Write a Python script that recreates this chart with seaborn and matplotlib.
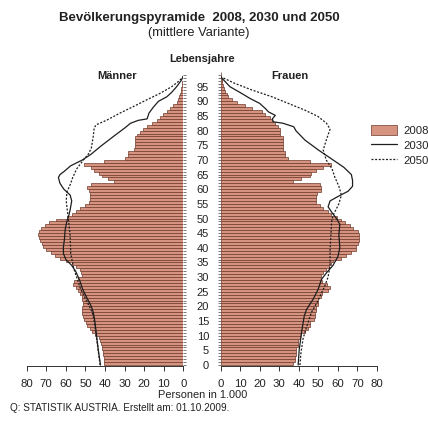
import numpy as np
import pandas as pd
import matplotlib
matplotlib.use("Agg")
import matplotlib.pyplot as plt
import seaborn as sns
from matplotlib.patches import Patch
from matplotlib.lines import Line2D
from matplotlib.ticker import FixedLocator

sns.set_style("ticks")
plt.rcParams["font.family"] = ["Liberation Sans", "DejaVu Sans"]

# ---------------- data (Personen in 1.000) ----------------
ages = list(range(100))

maenner_2008 = [
    40.5, 40.5, 40.5, 41.0, 41.0, 41.5, 41.5, 42.0, 42.5, 43.0,
    45.0, 46.5, 47.5, 49.0, 49.5, 50.5, 51.0, 52.0, 52.0, 51.5,
    51.0, 51.0, 51.5, 52.0, 53.0, 54.0, 55.0, 56.5, 56.0, 54.0,
    52.0, 52.5, 53.0, 55.0, 57.0, 60.0, 63.0, 65.5, 67.5, 70.0,
    71.5, 72.0, 73.0, 73.5, 74.0, 73.5, 72.5, 70.5, 68.5, 65.0,
    59.5, 57.0, 55.0, 53.0, 50.0, 48.0, 47.5, 47.5, 47.5, 48.0,
    49.0, 47.0, 35.5, 38.5, 41.5, 43.0, 45.5, 47.0, 50.5, 40.5,
    29.7, 28.0, 28.0, 25.0, 24.6, 24.5, 24.5, 24.5, 23.8, 22.0,
    20.4, 18.7, 16.1, 13.6, 11.9, 10.2, 8.5, 6.8, 5.1, 3.4,
    2.6, 2.4, 1.7, 1.3, 1.0, 0.7, 0.5, 0.3, 0.2, 0.1,
]

frauen_2008 = [
    37.2, 38.0, 38.0, 38.5, 38.5, 38.5, 39.4, 39.4, 39.5, 40.6,
    41.4, 43.0, 44.8, 45.7, 46.0, 48.0, 48.2, 48.2, 49.0, 49.0,
    49.9, 49.9, 50.0, 51.6, 52.0, 55.0, 55.9, 54.2, 52.0, 51.6,
    51.6, 52.5, 54.0, 55.5, 56.5, 57.6, 61.8, 64.4, 66.9, 69.5,
    69.5, 70.5, 70.7, 71.0, 70.7, 70.3, 67.8, 66.0, 63.5, 61.8,
    59.3, 56.7, 55.0, 52.5, 50.8, 49.0, 49.0, 49.0, 49.5, 51.6,
    51.6, 50.8, 37.1, 41.4, 45.7, 46.5, 49.0, 52.5, 56.7, 45.7,
    34.6, 32.9, 32.9, 32.0, 32.0, 32.0, 32.0, 32.0, 30.4, 30.4,
    30.4, 29.2, 27.8, 26.4, 25.3, 22.7, 21.0, 15.9, 12.5, 8.3,
    5.7, 4.0, 3.1, 2.3, 1.7, 1.4, 0.9, 0.6, 0.3, 0.15,
]

maenner_2030_alter = [0, 5, 10, 15, 18, 20, 23, 26, 29, 32, 34, 36, 38, 40, 43, 46, 49, 51, 53,
                      56, 58, 60, 62, 64, 65, 66, 68, 70, 72, 74.5, 78, 81, 82.5, 83.5, 84,
                      86, 88, 90, 91.5, 93, 95, 97, 98.5]
maenner_2030 = [42.3, 43.4, 44.3, 45.2, 46.0, 47.0, 49.3, 51.5, 53.0, 55.0, 57.0, 60.0, 61.2,
                61.3, 60.7, 60.4, 59.5, 58.5, 57.8, 57.0, 57.8, 61.0, 63.0, 63.8, 63.0, 61.0,
                57.5, 51.5, 47.0, 42.5, 35.7, 29.7, 27.0, 23.0, 18.5, 17.5, 15.3, 12.7, 8.5,
                6.0, 3.4, 1.2, 0.0]

maenner_2050_alter = [0, 5, 10, 15, 18, 22, 26, 29, 33, 38, 44, 50, 53, 56, 59, 62, 64, 67, 70,
                      72, 74, 76, 78, 81, 82, 83.6, 86, 88.2, 90.5, 92.7, 95, 97, 98.5]
maenner_2050 = [42.5, 43.5, 44.5, 45.5, 46.5, 49.5, 52.5, 54.0, 56.0, 57.5, 57.8, 58.7, 59.3,
                59.8, 59.5, 57.5, 56.5, 54.4, 51.0, 48.5, 47.0, 46.5, 46.0, 45.5, 44.5, 39.0,
                32.3, 25.5, 18.7, 11.9, 5.9, 2.0, 0.0]

frauen_2030_alter = [0, 5, 11, 16.7, 19, 22.4, 25.8, 29.2, 31.5, 34, 37, 40, 44.5, 48, 50, 52,
                     54, 56, 57.5, 59.3, 61, 63, 65, 67.5, 70, 73.4, 76.8, 80, 81.3, 82.5, 83,
                     84, 85.2, 86.4, 87.5, 89.3, 91, 92.7, 95, 98.4]
frauen_2030 = [39.7, 40.2, 41.4, 42.8, 44.0, 47.3, 49.9, 51.6, 54.2, 57.5, 60.0, 61.0, 60.5,
               61.0, 59.3, 57.0, 55.0, 56.0, 60.0, 65.2, 67.5, 67.5, 66.9, 63.0, 57.5, 50.0,
               43.1, 38.5, 37.5, 32.0, 27.0, 26.5, 28.0, 24.5, 23.0, 20.0, 15.0, 10.8, 4.8, 0.0]

frauen_2050_alter = [0, 4, 9, 13, 18, 22, 27, 30, 34, 39, 44, 49, 51, 53, 55, 58, 61, 64, 67,
                     70, 73.4, 77, 80.5, 82.5, 84.8, 87, 89.3, 91.6, 93.9, 96.1, 98.4]
frauen_2050 = [40.6, 41.1, 42.2, 44.0, 46.5, 49.9, 53.3, 55.0, 56.0, 56.0, 56.4, 56.8, 57.5,
               59.0, 60.5, 61.8, 60.5, 58.5, 57.0, 54.0, 52.5, 54.2, 56.0, 54.2, 49.9, 43.1,
               34.6, 26.1, 15.9, 7.4, 0.0]

x_ticks = [0, 10, 20, 30, 40, 50, 60, 70, 80]
age_ticks = list(range(0, 100, 5))
legend_labels = ["2008", "2030", "2050"]

# ---------------- styling ----------------
bar_color = "#d6937f"
edge_color = "#6e3a2e"
line_color = "#1e1e1e"
dot_style = (0, (1.6, 1.3))
text_color = "#222222"

W, H = 428, 421
fig = plt.figure(figsize=(W / 100, H / 100), dpi=100)
bottom = (H - 366.2) / H
height = 294.2 / H
axL = fig.add_axes([26.7 / W, bottom, 156.6 / W, height])
axR = fig.add_axes([220.5 / W, bottom, 156.5 / W, height])

for ax, bars, (a30, v30), (a50, v50) in (
    (axL, maenner_2008, (maenner_2030_alter, maenner_2030), (maenner_2050_alter, maenner_2050)),
    (axR, frauen_2008, (frauen_2030_alter, frauen_2030), (frauen_2050_alter, frauen_2050)),
):
    df = pd.DataFrame({"alter": np.array(ages) + 0.5, "wert": bars})
    sns.barplot(data=df, x="wert", y="alter", orient="h", native_scale=True, width=1,
                color=bar_color, saturation=1, edgecolor=edge_color, linewidth=0.5,
                errorbar=None, ax=ax)
    sns.lineplot(x=v30, y=a30, orient="y", color=line_color, linewidth=0.9, ax=ax)
    sns.lineplot(x=v50, y=a50, orient="y", color=line_color, linewidth=0.9,
                 linestyle=dot_style, ax=ax)
    ax.set_ylim(-0.4, 100)
    ax.set_xlabel("")
    ax.set_ylabel("")
    for s in ("top", "left", "right"):
        ax.spines[s].set_visible(False)
    ax.spines["bottom"].set_linewidth(0.7)
    ax.spines["bottom"].set_color("#333333")
    ax.xaxis.set_major_locator(FixedLocator(x_ticks))
    ax.set_xticklabels([str(t) for t in x_ticks])
    ax.tick_params(axis="x", length=3.6, width=0.7, color="#333333", pad=5.5,
                   labelsize=8.2, labelcolor=text_color)
    ax.set_facecolor("none")

axL.set_xlim(80, 0)
axR.set_xlim(0, 80)

# age ticks
axL.yaxis.tick_right()
axL.yaxis.set_major_locator(FixedLocator(ages))
axL.tick_params(axis="y", length=2.2, width=0.5, color="#444444", labelright=False, labelleft=False)

axR.yaxis.tick_left()
axR.yaxis.set_major_locator(FixedLocator(age_ticks))
axR.yaxis.set_minor_locator(FixedLocator(ages))
axR.set_yticklabels([str(a) for a in age_ticks])
axR.tick_params(axis="y", which="both", length=2.2, width=0.5, color="#444444", pad=6,
                labelsize=8.0, labelcolor=text_color)

# texts
def ft(x, y, s, **kw):
    fig.text(x / W, 1 - y / H, s, ha=kw.pop("ha", "center"), va="center",
             color=text_color, **kw)

ft(199, 18, "Bevölkerungspyramide  2008, 2030 und 2050", fontsize=9.5, fontweight="bold")
ft(199, 33, "(mittlere Variante)", fontsize=9.3)
ft(201.7, 59, "Lebensjahre", fontsize=8.0, fontweight="bold")
ft(117, 76, "Männer", fontsize=8.0, fontweight="bold")
ft(290, 76, "Frauen", fontsize=8.0, fontweight="bold")
ft(203, 395, "Personen in 1.000", fontsize=7.9)
ft(10, 408, "Q: STATISTIK AUSTRIA. Erstellt am: 01.10.2009.", ha="left", fontsize=7.2)

handles = [
    Patch(facecolor=bar_color, edgecolor=edge_color, linewidth=0.5),
    Line2D([], [], color=line_color, linewidth=0.9),
    Line2D([], [], color=line_color, linewidth=0.9, linestyle=dot_style),
]
fig.legend(handles, legend_labels, loc="upper left", bbox_to_anchor=(371 / W, 1 - 125 / H),
           frameon=False, fontsize=8.2, handlelength=2.3, handleheight=1.0,
           labelspacing=0.35, handletextpad=0.5, borderpad=0, borderaxespad=0,
           labelcolor=text_color)

fig.savefig("out.png", dpi=100)
